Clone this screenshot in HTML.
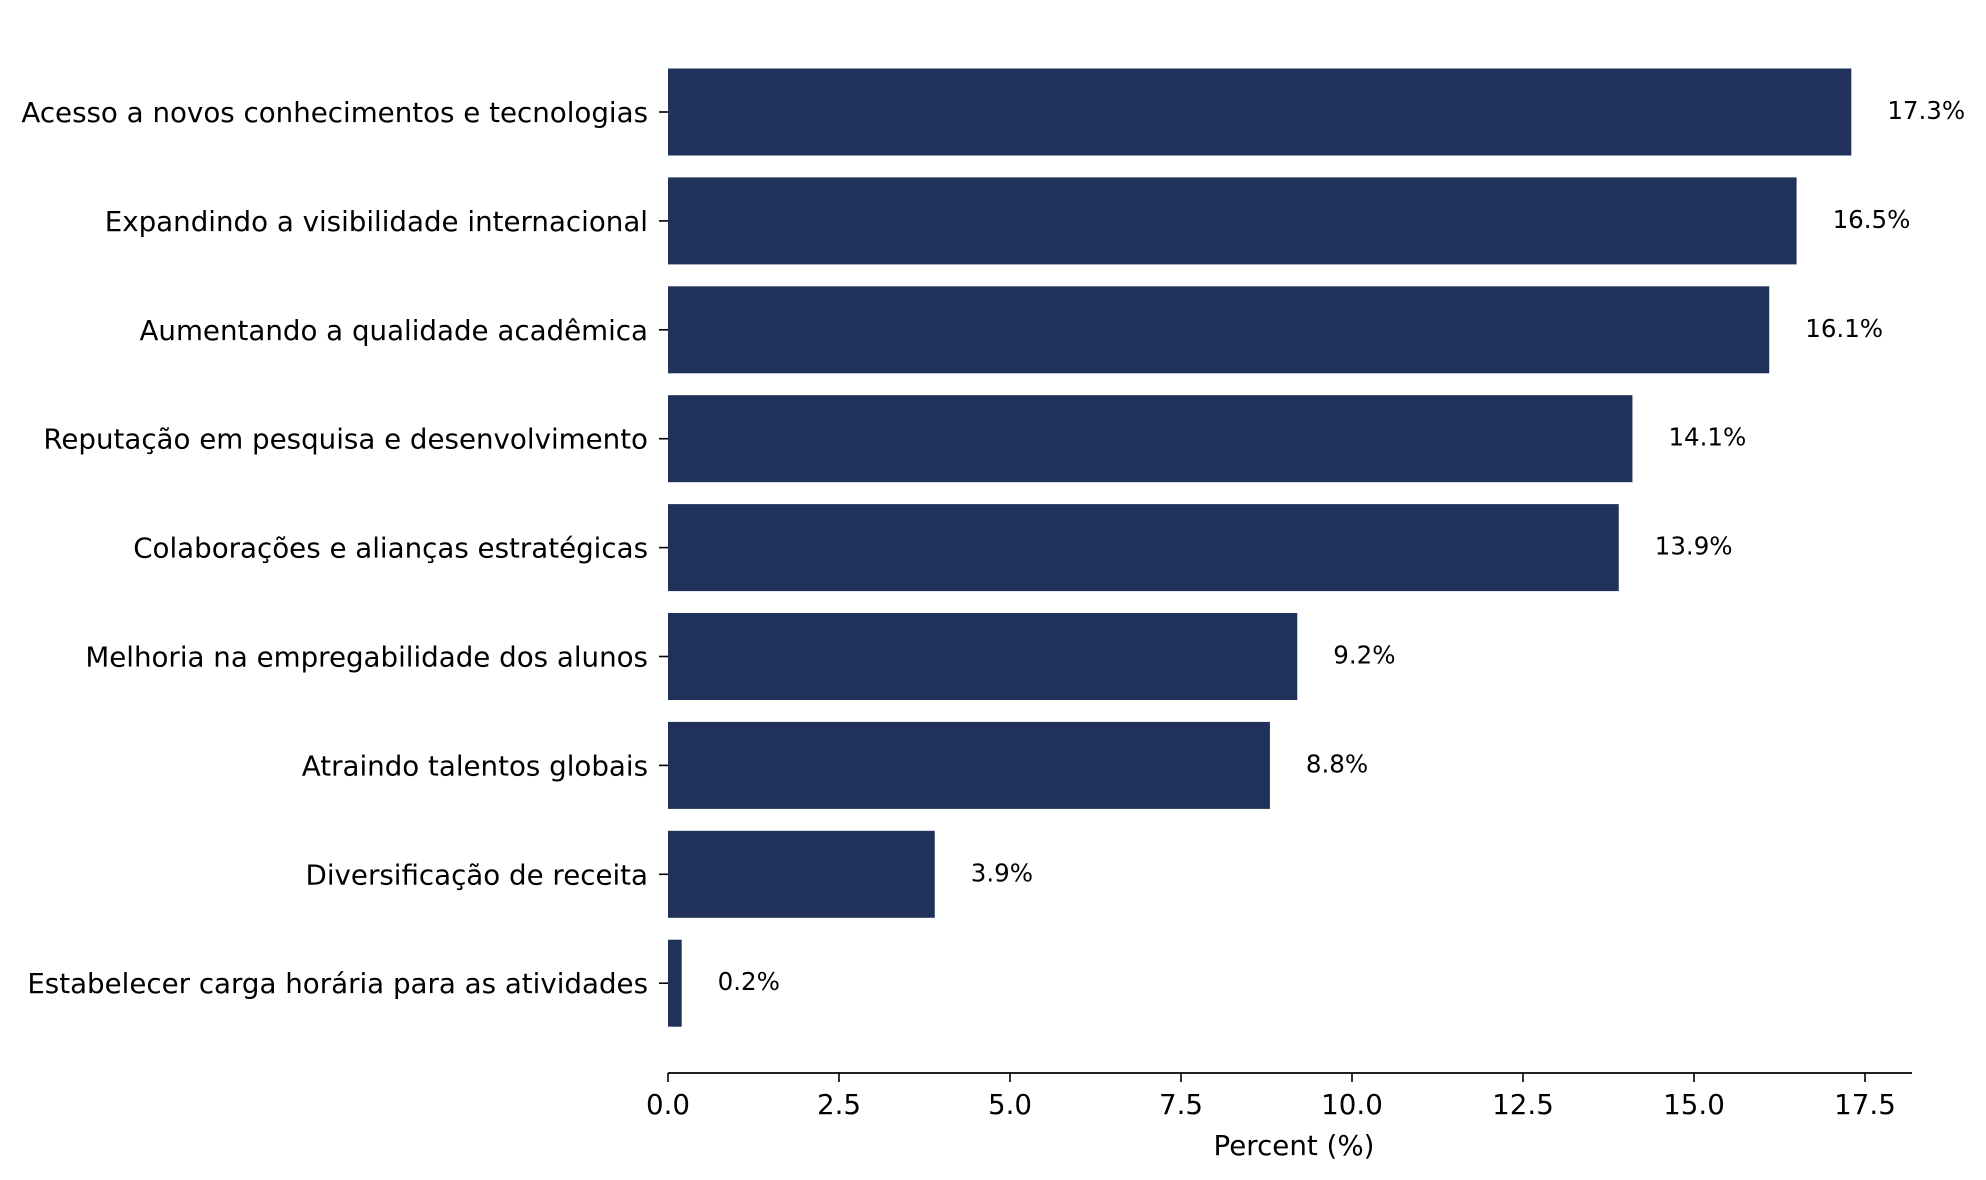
<!DOCTYPE html>
<html><head><meta charset="utf-8"><style>
html,body{margin:0;padding:0;background:#fff}
svg{display:block;font-family:"DejaVu Sans","Liberation Sans",sans-serif}
</style></head><body>
<svg id="chart" width="1986" height="1180" viewBox="0 0 1986 1180" xmlns="http://www.w3.org/2000/svg"></svg>
<script>
const categories = ["Acesso a novos conhecimentos e tecnologias","Expandindo a visibilidade internacional","Aumentando a qualidade acadêmica","Reputação em pesquisa e desenvolvimento","Colaborações e alianças estratégicas","Melhoria na empregabilidade dos alunos","Atraindo talentos globais","Diversificação de receita","Estabelecer carga horária para as atividades"];
const values = [17.3,16.5,16.1,14.1,13.9,9.2,8.8,3.9,0.2];
const valueLabels = ["17.3%","16.5%","16.1%","14.1%","13.9%","9.2%","8.8%","3.9%","0.2%"];
const xTicks = [0,2.5,5,7.5,10,12.5,15,17.5];
const xTickLabels = ["0.0","2.5","5.0","7.5","10.0","12.5","15.0","17.5"];

const NS = "http://www.w3.org/2000/svg";
const svg = document.getElementById('chart');
const x0 = 668, pxPerUnit = 68.4, axisEnd = 1912, axisY = 1073;
const rowTop = 112, rowStep = 108.9, barH = 87;
const xScale = v => x0 + v * pxPerUnit;
const yScale = i => rowTop + i * rowStep;
function mk(tag, attrs, text){
  const e = document.createElementNS(NS, tag);
  for (const k in attrs) e.setAttribute(k, attrs[k]);
  if (text !== undefined) e.textContent = text;
  svg.appendChild(e);
  return e;
}
categories.forEach((c, i) => {
  const cy = yScale(i);
  const r = mk('rect', {x: xScale(0), y: cy - barH/2, width: xScale(values[i]) - xScale(0), height: barH, fill: '#20325a'});
  
  
  const t = mk('line', {x1: x0 - 9, x2: x0, y1: cy, y2: cy, stroke: '#000', 'stroke-width': 1.6});
  
  
  const l = mk('text', {x: x0 - 20, y: cy + 10, 'text-anchor': 'end', 'font-size': 27.7, fill: '#000'}, c);
  
  
  const v = mk('text', {x: xScale(values[i]) + 36, y: cy + 7, 'font-size': 24.5, fill: '#000'}, valueLabels[i]);
  
  
});
const ax = mk('line', {x1: x0, x2: axisEnd, y1: axisY, y2: axisY, stroke: '#000', 'stroke-width': 1.8});


xTicks.forEach((v, i) => {
  const tx = mk('line', {x1: xScale(v), x2: xScale(v), y1: axisY, y2: axisY + 9, stroke: '#000', 'stroke-width': 1.6});
  
  
  const tl = mk('text', {x: xScale(v), y: axisY + 41, 'text-anchor': 'middle', 'font-size': 27.7, fill: '#000'}, xTickLabels[i]);
  
  
});
const xt = mk('text', {x: 1294, y: 1155, 'text-anchor': 'middle', 'font-size': 27.7, fill: '#000'}, 'Percent (%)');


</script>
</body></html>
